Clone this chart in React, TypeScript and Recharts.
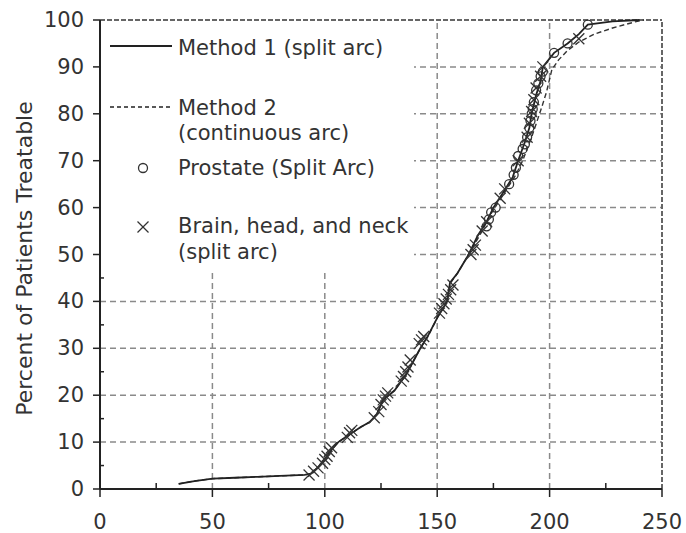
import { ComposedChart, Line, Scatter, XAxis, YAxis, ReferenceLine, Legend } from "recharts";

// Method 1 (split arc), solid
const method1X = [35, 42, 50, 60, 70, 80, 91, 94, 97, 100, 103, 106, 111, 116, 120, 123, 126, 131, 136, 138, 142.5, 145.6, 150, 154.4, 155.7, 159, 164, 166, 168, 172, 175, 180, 183.6, 186, 189, 191, 192, 194, 196, 197, 202, 208, 213, 217, 228, 240];
const method1Y = [1.1, 1.7, 2.2, 2.4, 2.6, 2.8, 3, 3.3, 4.6, 6.3, 8.4, 10, 11.6, 13.2, 14.3, 15.8, 19, 21, 24.3, 26, 30, 32.4, 36.5, 40, 44, 46, 50, 52, 54, 57, 60, 63.7, 66.5, 70, 74, 77, 80, 84, 87, 90, 93, 95, 97, 99, 99.7, 100];

// Method 2 (continuous arc), dashed
const method2X = [35, 42, 50, 60, 70, 80, 91, 94, 97, 100, 103, 106, 111, 116, 120, 123, 126, 131, 136, 138, 142.5, 146, 150, 154.4, 156, 159, 164, 167, 170, 173, 177, 181, 185, 188, 192, 196.5, 198.6, 201, 204, 208, 213, 220, 228, 238, 242];
const method2Y = [1.1, 1.7, 2.2, 2.4, 2.6, 2.8, 3, 3.3, 4.6, 6.3, 8.4, 10, 11.6, 13.2, 14.3, 15.8, 19, 21, 24.3, 26, 30, 32.6, 36.5, 40, 44, 46, 50, 52.5, 55, 58, 61, 64, 67, 70, 75, 81.4, 84.6, 89.4, 91.5, 93.5, 95.3, 97, 98.3, 99.6, 100];

// Prostate (split arc), circles
const prostateX = [172, 173, 174, 176, 182, 184, 185, 186, 188, 189, 190, 191, 191.5, 192, 192.5, 193, 194, 195, 196, 197, 202, 208, 217];
const prostateY = [56, 57.5, 59, 60, 65, 67, 68.5, 71, 72.5, 73.5, 75, 77, 78.5, 80, 81, 82.5, 85, 86.5, 88, 89, 93, 95, 99];

// Brain, head and neck (split arc), crosses
const brainX = [93, 95, 97, 99, 100, 101, 102, 103, 110, 111, 112, 122, 124, 125, 126, 127, 128, 134, 135, 136, 137, 138, 142, 143, 144, 151, 152, 153, 154, 155, 156, 157, 165, 166, 167, 170, 172, 178, 180, 186, 190, 191, 192, 193, 194, 196, 197, 213];
const brainY = [3, 3.8, 4.5, 5.5, 6.3, 7, 8, 8.8, 11, 12, 12.5, 15.2, 16.5, 18, 19, 19.8, 20.5, 23, 24, 25, 26, 27.5, 31, 31.8, 32.5, 37.5, 38.5, 39.5, 40.5, 41.5, 42.5, 43.5, 50, 51, 52, 55, 57, 62, 64, 70, 75, 78, 80.5, 83, 85.5, 88, 90, 96];

const xTicks = [0, 25, 50, 75, 100, 125, 150, 175, 200, 225, 250];
const xLabelTicks = [0, 50, 100, 150, 200, 250];
const yTicks = [0, 5, 10, 15, 20, 25, 30, 35, 40, 45, 50, 55, 60, 65, 70, 75, 80, 85, 90, 95, 100];
const yLabelTicks = [0, 10, 20, 30, 40, 50, 60, 70, 80, 90, 100];
const xGrid = [50, 100, 150, 200];
const yGrid = [10, 20, 30, 40, 50, 60, 70, 80, 90];

const zip = (xs: number[], ys: number[]) => xs.map((x, i) => ({ x, y: ys[i] }));

const method1 = zip(method1X, method1Y);
const method2 = zip(method2X, method2Y);
const prostate = zip(prostateX, prostateY);
const brain = zip(brainX, brainY);

const FONT = "'DejaVu Sans', Verdana, sans-serif";
const INK = "#333";

const XTick = ({ x, y, payload }: any) => {
  const major = xLabelTicks.includes(payload.value);
  return (
    <g>
      <line x1={x} x2={x} y1={major ? y : y - 6} y2={major ? y + 8 : y} stroke="#222" strokeWidth={1.5} />
      {major && (
        <text x={x} y={y + 33} textAnchor="middle" dominantBaseline="central" fontSize={21} fill={INK} fontFamily={FONT}>
          {payload.value}
        </text>
      )}
    </g>
  );
};

const YTick = ({ x, y, payload }: any) => {
  const major = yLabelTicks.includes(payload.value);
  return (
    <g>
      <line x1={major ? x - 7 : x} x2={major ? x : x + 4} y1={y} y2={y} stroke="#222" strokeWidth={1.5} />
      {major && (
        <text x={x - 16} y={y} textAnchor="end" dominantBaseline="central" fontSize={21} fill={INK} fontFamily={FONT}>
          {payload.value}
        </text>
      )}
    </g>
  );
};

const Circle = ({ cx, cy }: any) => (
  <circle cx={cx} cy={cy} r={4.5} fill="none" stroke={INK} strokeWidth={1.3} />
);

const Cross = ({ cx, cy }: any) => (
  <g stroke={INK} strokeWidth={1.3}>
    <line x1={cx - 5.5} y1={cy - 5.5} x2={cx + 5.5} y2={cy + 5.5} />
    <line x1={cx - 5.5} y1={cy + 5.5} x2={cx + 5.5} y2={cy - 5.5} />
  </g>
);

const LegendBox = () => (
  <svg width={313} height={251} style={{ display: "block", background: "#fff" }}>
    <g fontFamily={FONT} fontSize={21} fill={INK}>
      <line x1={9} x2={71} y1={25} y2={25} stroke="#222" strokeWidth={1.8} />
      <text x={77} y={34}>Method 1 (split arc)</text>
      <line x1={9} x2={71} y1={86} y2={86} stroke="#222" strokeWidth={1.5} strokeDasharray="4 3" />
      <text x={77} y={94}>Method 2</text>
      <text x={77} y={119}>(continuous arc)</text>
      <Circle cx={42} cy={147} />
      <text x={77} y={154}>Prostate (Split Arc)</text>
      <Cross cx={42} cy={206} />
      <text x={77} y={212}>Brain, head, and neck</text>
      <text x={77} y={238}>(split arc)</text>
    </g>
  </svg>
);

const YLabel = ({ viewBox }: any) => {
  const cx = 24;
  const cy = viewBox.y + viewBox.height / 2 + 4;
  return (
    <text x={cx} y={cy} transform={`rotate(-90 ${cx} ${cy})`} textAnchor="middle" dominantBaseline="central" fontSize={22} fill={INK} fontFamily={FONT}>
      Percent of Patients Treatable
    </text>
  );
};

export default function App() {
  return (
    <div style={{ position: "absolute", left: 0, top: 0, background: "#fff" }}>
      <ComposedChart width={686} height={533} margin={{ top: 20, right: 24, left: 0, bottom: 0 }}>
        <XAxis
          type="number"
          dataKey="x"
          domain={[0, 250]}
          ticks={xTicks}
          interval={0}
          height={44}
          tickSize={0}
          tickMargin={0}
          tickLine={false}
          axisLine={{ stroke: "#222", strokeWidth: 2 }}
          tick={XTick}
        />
        <YAxis
          type="number"
          dataKey="y"
          domain={[0, 100]}
          ticks={yTicks}
          interval={0}
          width={100}
          tickSize={0}
          tickMargin={0}
          tickLine={false}
          axisLine={{ stroke: "#222", strokeWidth: 2 }}
          tick={YTick}
          label={YLabel}
        />
        {yGrid.map((v) => (
          <ReferenceLine key={`gy${v}`} y={v} stroke="#8a8a8a" strokeWidth={1.5} strokeDasharray="6 4" />
        ))}
        {xGrid.map((v) => (
          <ReferenceLine key={`gx${v}`} x={v} stroke="#8a8a8a" strokeWidth={1.5} strokeDasharray="6 4" />
        ))}
        <ReferenceLine y={100} stroke="#666" strokeWidth={2} strokeDasharray="5 2" />
        <ReferenceLine x={250} stroke="#666" strokeWidth={2} strokeDasharray="5 2" />
        <Line data={method2} dataKey="y" type="linear" stroke="#333" strokeWidth={1.4} strokeDasharray="5 3" dot={false} isAnimationActive={false} name="Method 2 (continuous arc)" />
        <Line data={method1} dataKey="y" type="linear" stroke="#222" strokeWidth={1.8} dot={false} isAnimationActive={false} name="Method 1 (split arc)" />
        <Scatter data={prostate} dataKey="y" shape={Circle} isAnimationActive={false} name="Prostate (Split Arc)" />
        <Scatter data={brain} dataKey="y" shape={Cross} isAnimationActive={false} name="Brain, head, and neck (split arc)" />
        <Legend
          layout="vertical"
          align="center"
          verticalAlign="middle"
          content={LegendBox}
          wrapperStyle={{ left: 101, top: 21, width: 313, height: 251 }}
        />
      </ComposedChart>
    </div>
  );
}
